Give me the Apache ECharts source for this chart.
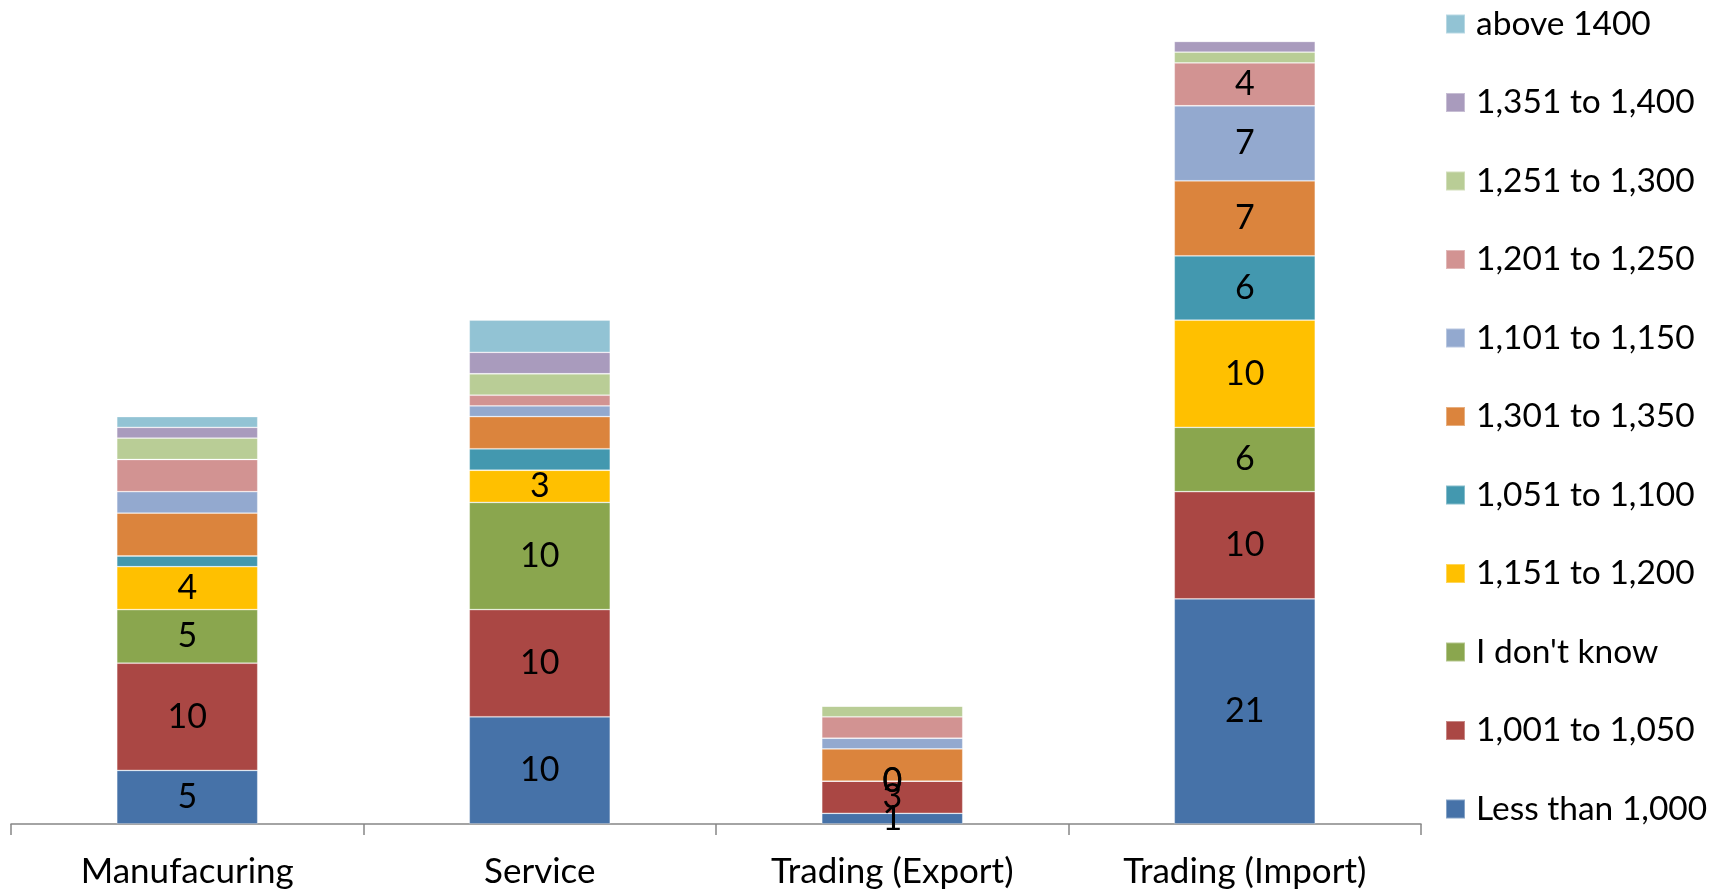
<!DOCTYPE html>
<html>
<head>
<meta charset="utf-8">
<script src="https://cdn.jsdelivr.net/npm/echarts@6/dist/echarts.min.js"></script>
<style>
html,body{margin:0;padding:0;background:#fff;}
#chart{width:1727px;height:892px;}
</style>
</head>
<body>
<div id="chart"></div>
<script>
const categories = ['Manufacuring', 'Service', 'Trading (Export)', 'Trading (Import)'];

// series in stacking order (bottom to top)
const seriesNames = ['Less than 1,000', '1,001 to 1,050', "I don't know", '1,151 to 1,200',
  '1,051 to 1,100', '1,301 to 1,350', '1,101 to 1,150', '1,201 to 1,250',
  '1,251 to 1,300', '1,351 to 1,400', 'above 1400'];

const lessThan1000 = [5, 10, 1, 21];
const r1001to1050 = [10, 10, 3, 10];
const dontKnow = [5, 10, 0, 6];
const r1151to1200 = [4, 3, 0, 10];
const r1051to1100 = [1, 2, 0, 6];
const r1301to1350 = [4, 3, 3, 7];
const r1101to1150 = [2, 1, 1, 7];
const r1201to1250 = [3, 1, 2, 4];
const r1251to1300 = [2, 2, 1, 1];
const r1351to1400 = [1, 2, 0, 1];
const above1400 = [1, 3, 0, 0];

// which points carry a data label (per series, per category)
const labelShown = [
  [1, 1, 1, 1], [1, 1, 1, 1], [1, 1, 1, 1], [1, 1, 1, 1],
  [0, 0, 0, 1], [0, 0, 0, 1], [0, 0, 0, 1], [0, 0, 0, 1],
  [0, 0, 0, 0], [0, 0, 0, 0], [0, 0, 0, 0]
];

const seriesValues = [lessThan1000, r1001to1050, dontKnow, r1151to1200, r1051to1100,
  r1301to1350, r1101to1150, r1201to1250, r1251to1300, r1351to1400, above1400];

const colors = ['#4672A8', '#AA4744', '#8AA64E', '#FFC000', '#4398AF', '#DB843D',
  '#93A9CF', '#D29392', '#B9CD96', '#A99BBD', '#92C3D4'];

const FONT = 'Lato, "Open Sans", sans-serif';

const chart = echarts.init(document.getElementById('chart'));
chart.setOption({
  animation: false,
  color: colors,
  grid: { left: 11, right: 306, top: 20, bottom: 68, containLabel: false },
  legend: {
    orient: 'vertical',
    left: 1440,
    top: 2,
    data: seriesNames.slice().reverse(),
    itemWidth: 19,
    itemHeight: 19,
    itemGap: 44.5,
    icon: 'rect',
    textStyle: { fontFamily: FONT, fontSize: 33.5, color: '#000', lineHeight: 31, padding: [0, 0, 0, 6] }
  },
  xAxis: {
    type: 'category',
    data: categories,
    axisLine: { lineStyle: { color: '#868686', width: 1.5 } },
    axisTick: { show: true, length: 11, lineStyle: { color: '#868686', width: 1.5 } },
    axisLabel: { fontFamily: FONT, fontSize: 35, color: '#000', margin: 30 }
  },
  yAxis: {
    type: 'value',
    min: 0,
    max: 75,
    show: false,
    splitLine: { show: false }
  },
  series: seriesNames.map((name, i) => ({
    name: name,
    type: 'bar',
    stack: 'total',
    barWidth: '40%',
    itemStyle: { borderColor: 'rgba(255,255,255,0.35)', borderWidth: 0.8 },
    data: seriesValues[i].map((v, j) => ({
      value: v,
      label: {
        show: !!labelShown[i][j],
        position: 'inside',
        fontFamily: FONT,
        fontSize: 34,
        color: '#000'
      }
    }))
  }))
});
</script>
</body>
</html>
